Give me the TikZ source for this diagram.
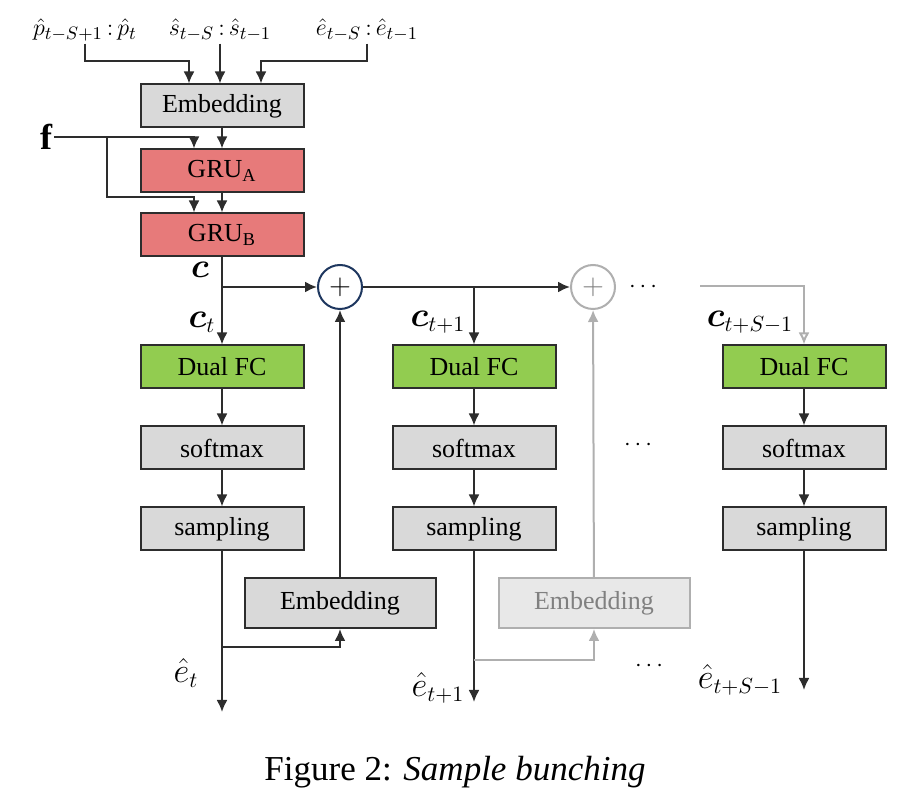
\documentclass[tikz,border=0pt]{standalone}
\usepackage{amsmath}
\usepackage{bm}
\usepackage{fontspec}
\setmainfont{Liberation Serif}
\usetikzlibrary{arrows.meta,positioning}

\definecolor{boxgray}{RGB}{217,217,217}
\definecolor{grured}{RGB}{231,122,122}
\definecolor{fcgreen}{RGB}{146,204,80}
\definecolor{linegray}{RGB}{45,45,45}
\definecolor{plusblue}{RGB}{30,55,95}
\definecolor{fadegray}{RGB}{175,175,175}

\tikzset{
 blk/.style={draw=linegray,line width=1pt,minimum width=81.5pt,minimum height=21.5pt,
  inner sep=0pt,font=\fontsize{13}{15}\selectfont},
 grayblk/.style={blk,fill=boxgray},
 redblk/.style={blk,fill=grured},
 greenblk/.style={blk,fill=fcgreen},
 embblk/.style={grayblk,minimum width=95.5pt,minimum height=25pt},
 sumnode/.style={circle,draw=plusblue,line width=1pt,minimum size=22pt,inner sep=0pt,
  fill=white,font=\fontsize{14}{16}\selectfont},
 lbl/.style={inner sep=1pt,font=\fontsize{13}{15}\selectfont},
 clbl/.style={inner sep=1pt,font=\fontsize{16}{18}\selectfont},
 arr/.style={color=linegray,line width=1pt,-{Latex[length=6pt,width=5.5pt]}},
 farr/.style={color=fadegray,line width=1pt,-{Latex[length=6pt,width=5.5pt]}}
}

\begin{document}
\begin{tikzpicture}[x=0.5pt,y=-0.5pt,node distance=40.5pt,on grid]
 \useasboundingbox (0,0) rectangle (911,801);

 % inputs and encoder
 \node[lbl] (inP) at (85,30) {$\hat{p}_{t-S+1}\,{:}\,\hat{p}_t$};
 \node[lbl] (inS) at (220,30) {$\hat{s}_{t-S}\,{:}\,\hat{s}_{t-1}$};
 \node[lbl] (inE) at (367,30) {$\hat{e}_{t-S}\,{:}\,\hat{e}_{t-1}$};
 \node[grayblk] (emb) at (222,106) {Embedding};
 \node[redblk] (gruA) [below=32.5pt of emb] {GRU\textsubscript{A}};
 \node[redblk] (gruB) [below=32pt of gruA] {GRU\textsubscript{B}};
 \node[inner sep=1pt,font=\fontsize{18}{20}\selectfont\bfseries] (f) at (46,137) {f};
 \coordinate (fsplit) at (107,137);
 \node[clbl] (cB) at (200,270) {$\boldsymbol{c}$};

 % sums
 \node[sumnode] (plus1) at (340,287) {$+$};
 \node[sumnode,draw=fadegray,text=gray] (plus2) at (593,287) {$+$};
 \node[lbl] (dotsA) at (645,287) {$\cdots$};
 \coordinate (gstart) at (700,286);

 % decoder columns
 \node[greenblk] (fc1) at (222,367) {Dual FC};
 \node[grayblk] (sm1) [below=of fc1] {softmax};
 \node[grayblk] (sp1) [below=of sm1] {sampling};
 \node[greenblk] (fc2) at (474,367) {Dual FC};
 \node[grayblk] (sm2) [below=of fc2] {softmax};
 \node[grayblk] (sp2) [below=of sm2] {sampling};
 \node[greenblk] (fc3) at (804,367) {Dual FC};
 \node[grayblk] (sm3) [below=of fc3] {softmax};
 \node[grayblk] (sp3) [below=of sm3] {sampling};
 \node[lbl] (dotsB) at (640,445) {$\cdots$};

 \node[clbl] (ct1) at (202,322) {$\boldsymbol{c}_t$};
 \node[clbl] (ct2) at (438,322) {$\boldsymbol{c}_{t+1}$};
 \node[clbl] (ct3) at (750,322) {$\boldsymbol{c}_{t+S-1}$};

 % feedback
 \node[embblk] (emb1) at (340,603) {Embedding};
 \node[embblk,draw=fadegray,fill=boxgray!60,text=gray] (emb2) at (594,603) {Embedding};
 \coordinate (b1) at (222,647);
 \coordinate (b2) at (474,660);
 \coordinate (out1) at (222,712);
 \coordinate (out2) at (474,702);
 \coordinate (out3) at (804,690);
 \node[clbl] (et1) at (186,673) {$\hat{e}_t$};
 \node[clbl] (et2) at (438,688) {$\hat{e}_{t+1}$};
 \node[clbl] (et3) at (740,680) {$\hat{e}_{t+S-1}$};
 \node[lbl] (dotsC) at (651,666) {$\cdots$};

 \node[font=\fontsize{17.5}{20}\selectfont] (cap) at (455,772) {Figure 2: \textit{Sample bunching}};

 \draw[arr] (inP.south) |- ([xshift=-16.5pt,yshift=11pt]emb.north) -- ([xshift=-16.5pt]emb.north);
 \draw[arr] (inS.south) -- (inS.south |- emb.north);
 \draw[arr] (inE.south) |- ([xshift=19.5pt,yshift=11pt]emb.north) -- ([xshift=19.5pt]emb.north);
 \draw[arr] (f.east) -| ([xshift=-14pt]gruA.north);
 \draw[arr] (fsplit) |- ([xshift=-14pt,yshift=7.5pt]gruB.north) -- ([xshift=-14pt]gruB.north);
 \path[arr]
 (emb) edge (gruA)
 (gruA) edge (gruB)
 (gruB) edge (fc1)
 (gruB.south |- plus1) edge (plus1)
 (plus1) edge (plus2)
 (fc2.north |- plus1) edge (fc2)
 (fc1) edge (sm1)
 (sm1) edge (sp1)
 (fc2) edge (sm2)
 (sm2) edge (sp2)
 (fc3) edge (sm3)
 (sm3) edge (sp3)
 (sp1) edge (out1)
 (sp2) edge (out2)
 (sp3) edge (out3)
 (emb1) edge (plus1);
 \draw[arr] (b1) -| (emb1.south);
 \draw[farr] (b2) -| (emb2.south);
 \draw[farr] (emb2) -- (plus2);
 \draw[color=fadegray,line width=1pt,-{Latex[open,length=6pt,width=5.5pt]}] (gstart) -| (fc3.north);

\end{tikzpicture}
\end{document}
